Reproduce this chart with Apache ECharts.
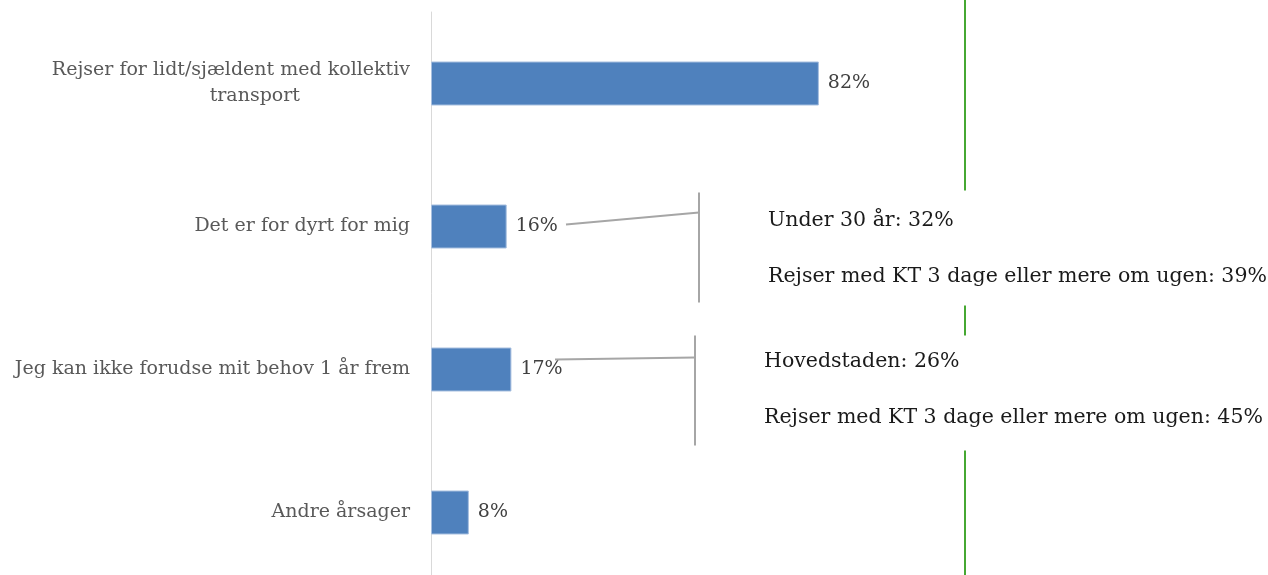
<!DOCTYPE html>
<html>
<head>
<meta charset="utf-8">
<script src="https://cdn.jsdelivr.net/npm/echarts@6/dist/echarts.min.js"></script>
<style>
  html, body { margin: 0; padding: 0; background: #fff; }
  #chart { width: 1268px; height: 575px; }
</style>
</head>
<body>
<div id="chart"></div>
<script>
// ---- data ----
var categories = [
  'Rejser for lidt/sjældent med kollektiv\ntransport',
  'Det er for dyrt for mig',
  'Jeg kan ikke forudse mit behov 1 år frem',
  'Andre årsager'
];
var shares = [82, 16, 17, 8];

// callout texts, keyed by category index
var calloutCats = [1, 2];
var calloutLines = [
  ['Under 30 år: 32%', 'Rejser med KT 3 dage eller mere om ugen: 39%'],
  ['Hovedstaden: 26%', 'Rejser med KT 3 dage eller mere om ugen: 45%']
];

var FONT = '"DejaVu Serif", serif';

var chart = echarts.init(document.getElementById('chart'));

chart.setOption({
  animation: false,
  grid: { left: 431, top: 12, width: 473, height: 572, outerBoundsMode: 'none', containLabel: false },
  xAxis: {
    type: 'value',
    min: 0,
    max: 100,
    show: false
  },
  yAxis: {
    type: 'category',
    inverse: true,
    data: categories,
    axisLine: { show: true, lineStyle: { color: '#d9d9d9', width: 1 } },
    axisTick: { show: false },
    axisLabel: {
      margin: 21,
      color: '#595959',
      fontFamily: FONT,
      fontSize: 19,
      lineHeight: 26,
      formatter: function (v) {
        var parts = v.split('\n');
        if (parts.length < 2) return v;
        return parts[0] + '\n{t|' + parts[1] + '}';
      },
      rich: {
        t: { color: '#595959', fontFamily: FONT, fontSize: 19, lineHeight: 26, padding: [0, 110, 0, 0] }
      }
    }
  },
  series: [{
    type: 'bar',
    data: shares,
    barWidth: 44,
    itemStyle: { color: '#4f81bd', borderColor: '#a7bfdf', borderWidth: 1 },
    label: {
      show: true,
      position: 'right',
      distance: 9,
      formatter: '{c}%',
      color: '#404040',
      fontFamily: FONT,
      fontSize: 19
    }
  }]
});

// ---- annotations: green divider + bracket callouts ----
function drawAnnotations() {
  var els = [];
  var gx = 965;
  els.push({
    type: 'line', z: 1,
    shape: { x1: gx, y1: 0, x2: gx, y2: 575 },
    style: { stroke: '#46a832', lineWidth: 2 }
  });

  var bracketX = [699, 695];
  var lineStart = [[566, -2], [555, -10]];
  var joinDy = [-14, -12];
  calloutCats.forEach(function (ci, k) {
    var p = chart.convertToPixel({ gridIndex: 0 }, [shares[ci], ci]);
    var cy = p[1];
    var bx = bracketX[k];
    // connector from the value label to the bracket
    els.push({
      type: 'line', z: 3,
      shape: { x1: lineStart[k][0], y1: cy + lineStart[k][1], x2: bx, y2: cy + joinDy[k] },
      style: { stroke: '#a6a6a6', lineWidth: 2 }
    });
    els.push({
      type: 'line', z: 3,
      shape: { x1: bx, y1: cy - 34, x2: bx, y2: cy + 76 },
      style: { stroke: '#a6a6a6', lineWidth: 2 }
    });
    // white box masks the divider behind the text
    els.push({
      type: 'rect', z: 2,
      shape: { x: bx + 40, y: cy - 36 + k * 2, width: 1268 - bx - 40, height: 115 },
      style: { fill: '#fff' }
    });
    els.push({
      type: 'text', z: 4,
      x: bx + 69, y: cy - 6 - k * 2,
      style: {
        text: calloutLines[k][0],
        font: '20.5px ' + FONT,
        fill: '#1a1a1a',
        verticalAlign: 'middle'
      }
    });
    els.push({
      type: 'text', z: 4,
      x: bx + 69, y: cy + 50 - k * 2,
      style: {
        text: calloutLines[k][1],
        font: '20.5px ' + FONT,
        fill: '#1a1a1a',
        verticalAlign: 'middle'
      }
    });
  });
  chart.setOption({ graphic: { elements: els } });
}
drawAnnotations();
</script>
</body>
</html>
